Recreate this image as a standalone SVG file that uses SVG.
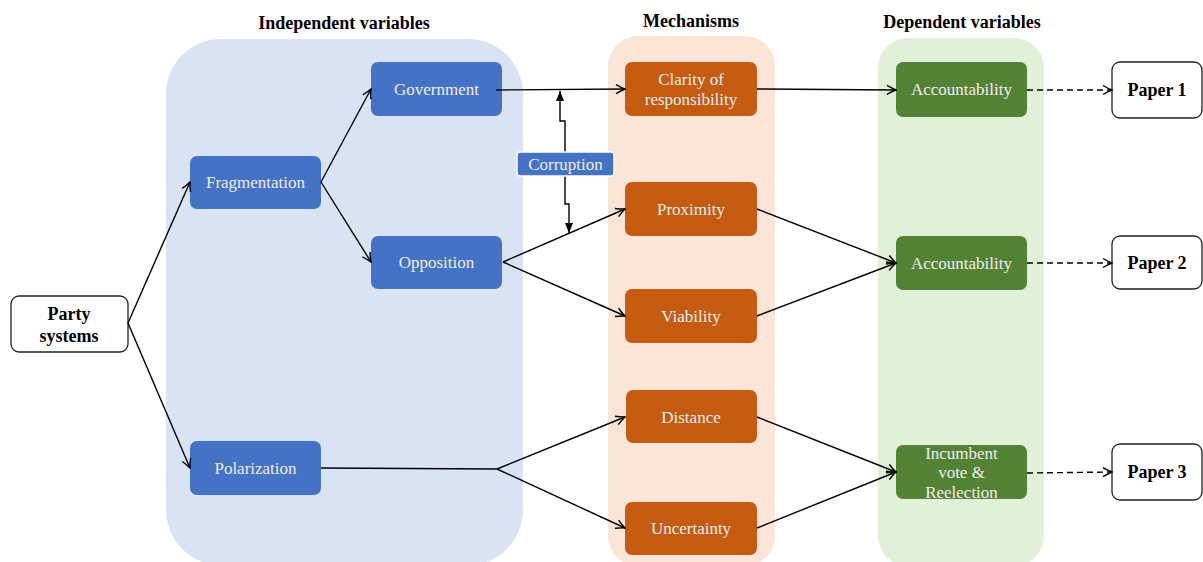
<svg xmlns="http://www.w3.org/2000/svg" width="1203" height="562" viewBox="0 0 1203 562">
<defs>
<style>
.hdr{font-family:"Liberation Serif","DejaVu Serif",serif;font-size:18px;font-weight:bold;fill:#000;text-anchor:middle}
.nt{font-family:"Liberation Serif","DejaVu Serif",serif;font-size:17px;fill:#eeeeee;text-anchor:middle}
.bt{font-family:"Liberation Serif","DejaVu Serif",serif;font-size:18px;font-weight:bold;fill:#000;text-anchor:middle}
.blue{fill:#4472C4}
.orange{fill:#C55A11}
.green{fill:#548235}
.white{fill:#fff;stroke:#222;stroke-width:1.3}
.c{fill:none;stroke:#000;stroke-width:1.4}
.d{fill:none;stroke:#000;stroke-width:1.4;stroke-dasharray:6 4}
</style>
<marker id="open" viewBox="0 0 12 12" refX="11" refY="6" markerWidth="12" markerHeight="12" markerUnits="userSpaceOnUse" orient="auto">
<path d="M2,1.5 Q7,4.5 11,6 Q7,7.5 2,10.5" fill="none" stroke="#000" stroke-width="1.4"/>
</marker>
<marker id="solid" viewBox="0 0 10 8" refX="10" refY="4" markerWidth="10" markerHeight="8" markerUnits="userSpaceOnUse" orient="auto">
<path d="M0,0 L10,4 L0,8 z" fill="#000"/>
</marker>
</defs>

<g id="panels">
<rect x="166" y="39" width="357" height="526" rx="55" fill="#DAE3F3"/>
<rect x="608" y="36" width="167" height="530" rx="30" fill="#FBE5D6"/>
<rect x="878" y="38" width="166" height="528" rx="30" fill="#E2F0D9"/>
</g>

<g id="headers">
<text class="hdr" x="344" y="29">Independent variables</text>
<text class="hdr" x="691" y="27">Mechanisms</text>
<text class="hdr" x="962" y="28">Dependent variables</text>
</g>

<g id="party-systems">
<rect class="white" x="11" y="296" width="117" height="56" rx="8"/>
<text class="bt" x="69" y="320">Party</text>
<text class="bt" x="69" y="342">systems</text>
</g>

<g id="fragmentation">
<rect class="blue" x="190" y="156" width="131" height="53" rx="7"/>
<text class="nt" x="255.5" y="188">Fragmentation</text>
</g>
<g id="polarization">
<rect class="blue" x="190" y="441" width="131" height="54" rx="7"/>
<text class="nt" x="255.5" y="474">Polarization</text>
</g>
<g id="government">
<rect class="blue" x="371" y="62" width="131" height="54" rx="7"/>
<text class="nt" x="436.5" y="95">Government</text>
</g>
<g id="opposition">
<rect class="blue" x="371" y="236" width="131" height="53" rx="7"/>
<text class="nt" x="436.5" y="268">Opposition</text>
</g>

<g id="clarity">
<rect class="orange" x="625" y="62" width="132" height="54" rx="7"/>
<text class="nt" x="691" y="85">Clarity of</text>
<text class="nt" x="691" y="105">responsibility</text>
</g>
<g id="proximity">
<rect class="orange" x="625" y="182" width="132" height="54" rx="7"/>
<text class="nt" x="691" y="215">Proximity</text>
</g>
<g id="viability">
<rect class="orange" x="625" y="289" width="132" height="54" rx="7"/>
<text class="nt" x="691" y="322">Viability</text>
</g>
<g id="distance">
<rect class="orange" x="626" y="390" width="131" height="53" rx="7"/>
<text class="nt" x="691" y="423">Distance</text>
</g>
<g id="uncertainty">
<rect class="orange" x="625" y="502" width="132" height="53" rx="7"/>
<text class="nt" x="691" y="534">Uncertainty</text>
</g>

<g id="accountability-1">
<rect class="green" x="896" y="62" width="131" height="55" rx="7"/>
<text class="nt" x="961.5" y="95">Accountability</text>
</g>
<g id="accountability-2">
<rect class="green" x="896" y="236" width="131" height="54" rx="7"/>
<text class="nt" x="961.5" y="269">Accountability</text>
</g>
<g id="incumbent">
<rect class="green" x="896" y="445" width="131" height="54" rx="7"/>
<text class="nt" x="961.5" y="459">Incumbent</text>
<text class="nt" x="961.5" y="478">vote &amp;</text>
<text class="nt" x="961.5" y="498">Reelection</text>
</g>

<g id="paper-1">
<rect class="white" x="1112" y="62" width="90" height="56" rx="8"/>
<text class="bt" x="1157" y="96">Paper 1</text>
</g>
<g id="paper-2">
<rect class="white" x="1112" y="236" width="90" height="53" rx="8"/>
<text class="bt" x="1157" y="269">Paper 2</text>
</g>
<g id="paper-3">
<rect class="white" x="1112" y="444" width="90" height="56" rx="8"/>
<text class="bt" x="1157" y="478">Paper 3</text>
</g>

<g id="connectors">
<path class="c" d="M128,323 L190,182" marker-end="url(#open)"/>
<path class="c" d="M128,323 L190,468" marker-end="url(#open)"/>
<path class="c" d="M321,182 L371,89" marker-end="url(#open)"/>
<path class="c" d="M321,182 L371,262" marker-end="url(#open)"/>
<path class="c" d="M496,90 L625,89" marker-end="url(#open)"/>
<path class="c" d="M757,89 L896,90" marker-end="url(#open)"/>
<path class="c" d="M503,262 L625,209" marker-end="url(#open)"/>
<path class="c" d="M503,262 L625,316" marker-end="url(#open)"/>
<path class="c" d="M757,209 L896,263" marker-end="url(#open)"/>
<path class="c" d="M757,316 L896,263" marker-end="url(#open)"/>
<path class="c" d="M321,468 L497,469"/>
<path class="c" d="M497,469 L625,417" marker-end="url(#open)"/>
<path class="c" d="M497,469 L625,528" marker-end="url(#open)"/>
<path class="c" d="M757,417 L896,472" marker-end="url(#open)"/>
<path class="c" d="M757,528 L896,472" marker-end="url(#open)"/>
<path class="d" d="M1027,90 L1112,90" marker-end="url(#open)"/>
<path class="d" d="M1027,263 L1112,263" marker-end="url(#open)"/>
<path class="d" d="M1027,473 L1112,472" marker-end="url(#open)"/>
<path class="c" d="M565,152 V121 H560 V91" marker-end="url(#solid)"/>
<path class="c" d="M565,176 V204 H569 V233" marker-end="url(#solid)"/>
</g>

<g id="corruption">
<rect x="517" y="152" width="97" height="24" rx="3" fill="#4472C4" stroke="#fff" stroke-width="1.5"/>
<text class="nt" x="565.5" y="170">Corruption</text>
</g>
</svg>
